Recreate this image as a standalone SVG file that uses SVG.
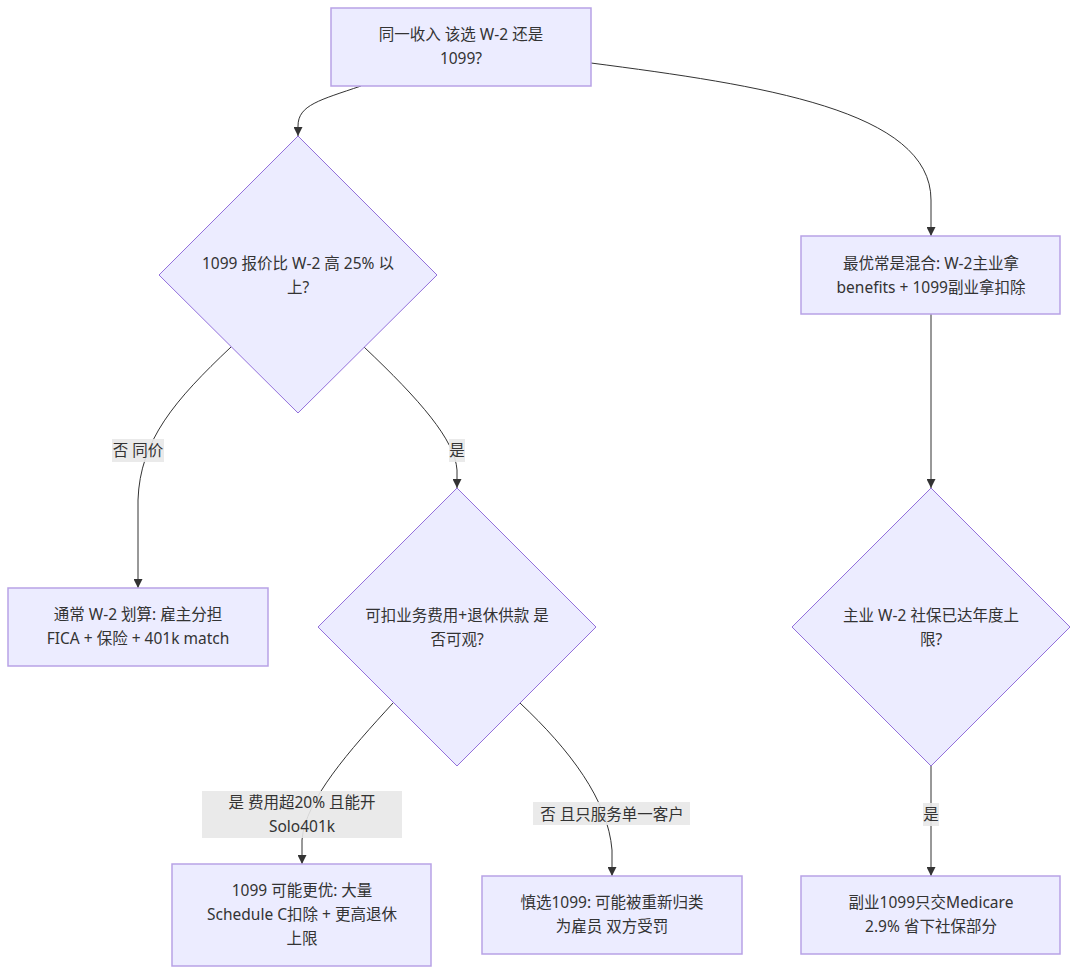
<svg xmlns="http://www.w3.org/2000/svg" width="1079" height="974" viewBox="0 0 1079 974">
<style>
.node rect,.node polygon{fill:#ECECFF;stroke:#9370DB;stroke-width:1px}
.node rect{stroke:#B8A2E6;stroke-width:1.5px}
text{font-family:"Noto Sans","Noto Sans CJK SC",sans-serif;font-size:15.5px;fill:#333;text-anchor:middle;dominant-baseline:central}
.edge{fill:none;stroke:#333;stroke-width:1px}
.lbl{fill:#E8E8E8;fill-opacity:0.9}
</style>
<defs>
<marker id="arr" viewBox="0 0 10 10" refX="10" refY="5" markerUnits="userSpaceOnUse" markerWidth="9" markerHeight="9" orient="auto">
<path d="M0,0 L10,5 L0,10 z" fill="#333"/>
</marker>
</defs>
<rect width="1079" height="974" fill="#fff"/>
<g id="edges">
<path class="edge" d="M361,86 C320,100 298,105 298,126 L298,136" marker-end="url(#arr)"/>
<path class="edge" d="M591,63 C760,85 931,110 931,200 L931,236" marker-end="url(#arr)"/>
<path class="edge" d="M231,347 C175,400 140,440 138,500 L138,588" marker-end="url(#arr)"/>
<path class="edge" d="M364,347 C420,400 455,440 457,470 L457,488" marker-end="url(#arr)"/>
<path class="edge" d="M931,314 L931,488" marker-end="url(#arr)"/>
<path class="edge" d="M393,703 C350,750 305,800 302,840 L302,864" marker-end="url(#arr)"/>
<path class="edge" d="M520,703 C570,750 608,800 612,850 L612,876" marker-end="url(#arr)"/>
<path class="edge" d="M931,766 L931,876" marker-end="url(#arr)"/>
</g>
<g id="edge-labels">
<rect class="lbl" x="112" y="439" width="52" height="23"/><text x="138" y="450">否 同价</text>
<rect class="lbl" x="449" y="439" width="16" height="23"/><text x="457" y="450">是</text>
<rect class="lbl" x="202" y="791" width="200" height="47"/><text x="302" y="802">是 费用超20% 且能开</text><text x="302" y="826">Solo401k</text>
<rect class="lbl" x="533" y="802" width="157" height="23"/><text x="612" y="814">否 且只服务单一客户</text>
<rect class="lbl" x="923" y="803" width="16" height="23"/><text x="931" y="814">是</text>
</g>
<g id="A" class="node"><rect x="331" y="8" width="260" height="78"/><text x="461" y="34">同一收入 该选 W-2 还是</text><text x="461" y="58">1099?</text></g>
<g id="B" class="node"><polygon points="298,136 437,275 298,413 159,275"/><text x="298" y="263">1099 报价比 W-2 高 25% 以</text><text x="298" y="287">上?</text></g>
<g id="C" class="node"><rect x="801" y="236" width="259" height="78"/><text x="931" y="263">最优常是混合: W-2主业拿</text><text x="931" y="287">benefits + 1099副业拿扣除</text></g>
<g id="D" class="node"><rect x="8" y="588" width="260" height="78"/><text x="138" y="614">通常 W-2 划算: 雇主分担</text><text x="138" y="638">FICA + 保险 + 401k match</text></g>
<g id="E" class="node"><polygon points="457,488 596,627 457,766 318,627"/><text x="457" y="615">可扣业务费用+退休供款 是</text><text x="457" y="639">否可观?</text></g>
<g id="F" class="node"><polygon points="931,488 1070,627 931,766 792,627"/><text x="931" y="615">主业 W-2 社保已达年度上</text><text x="931" y="639">限?</text></g>
<g id="G" class="node"><rect x="172" y="864" width="259" height="102"/><text x="302" y="890">1099 可能更优: 大量</text><text x="302" y="914">Schedule C扣除 + 更高退休</text><text x="302" y="938">上限</text></g>
<g id="H" class="node"><rect x="482" y="876" width="260" height="78"/><text x="612" y="902">慎选1099: 可能被重新归类</text><text x="612" y="926">为雇员 双方受罚</text></g>
<g id="I" class="node"><rect x="801" y="876" width="259" height="78"/><text x="931" y="902">副业1099只交Medicare</text><text x="931" y="926">2.9% 省下社保部分</text></g>
</svg>
